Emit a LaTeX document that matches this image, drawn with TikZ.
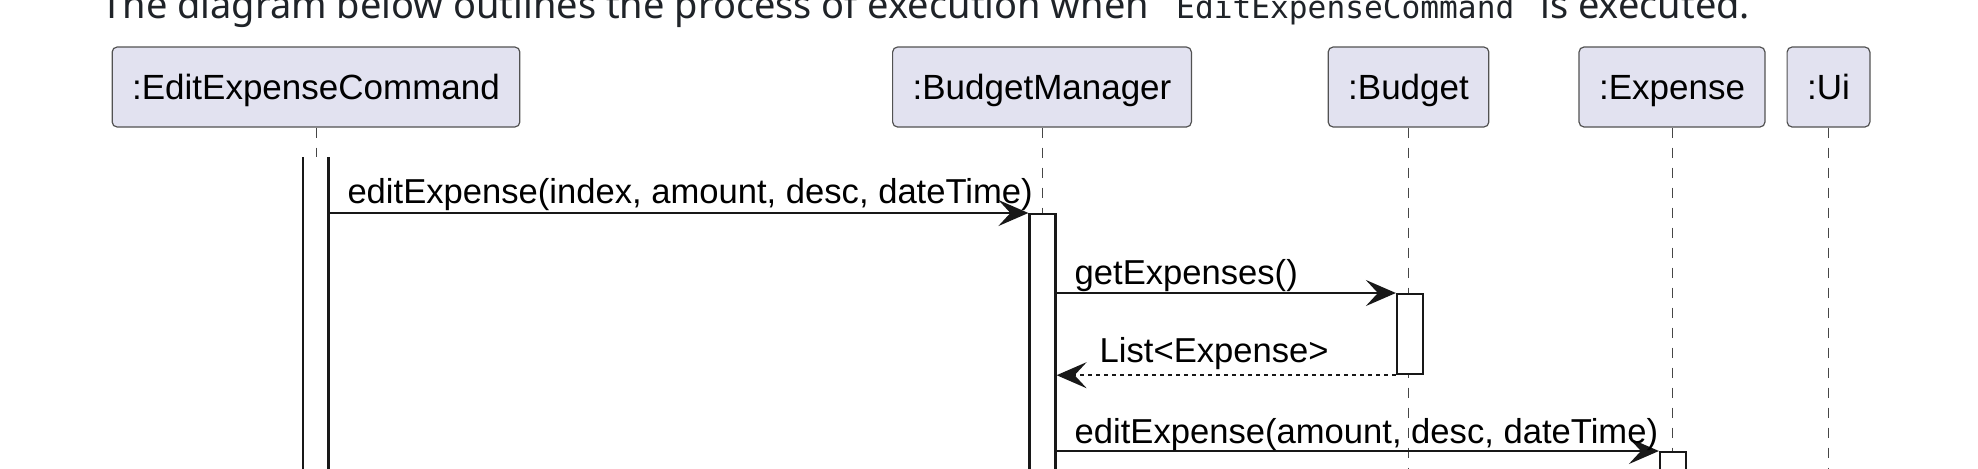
\documentclass[tikz,border=0pt]{standalone}
\usepackage{fontspec}
\setmainfont{Liberation Sans}
\newfontfamily\mdfont{Noto Sans}
\newfontfamily\mdcode{DejaVu Sans Mono}
\usetikzlibrary{arrows.meta,positioning}
\definecolor{partfill}{HTML}{E2E2F0}
\definecolor{umlline}{HTML}{181818}
\definecolor{mdtext}{HTML}{1F2328}
\tikzset{
  part/.style={draw=umlline!75, line width=0.6pt, fill=partfill, rounded corners=2.5pt,
    minimum height=40pt, inner xsep=10pt, text height=12.4pt, text depth=0pt,
    font=\fontsize{17.5pt}{20pt}\selectfont},
  lifeline/.style={draw=umlline!80, line width=0.5pt, dash pattern=on 5pt off 5pt},
  actfill/.style={fill=white, minimum width=13pt, inner sep=0pt, anchor=north},
  activ/.style={draw=umlline, line width=1.1pt},
  msg/.style={draw=umlline, line width=1.1pt, -{Stealth[length=15pt,width=13pt,inset=6pt]}},
  reply/.style={msg, dash pattern=on 2pt off 2pt},
  msglabel/.style={anchor=base west, inner sep=0pt, font=\fontsize{17.3pt}{20pt}\selectfont}
}
\begin{document}
\begin{tikzpicture}[x=0.5pt,y=-0.5pt]
\clip[use as bounding box] (0,0) rectangle (1978,468);

% intro line of the page, cut at the top
\node[anchor=base west, inner sep=0pt, text=mdtext, font=\mdfont\fontsize{19pt}{22pt}\selectfont]
  (intro) at (101,18) {The diagram below outlines the process of execution
  when\hspace{13.5pt}{\mdcode\fontsize{15.6pt}{18pt}\selectfont EditExpenseCommand}\hspace{13pt}is executed.};

% participants
\node[part] (eec) at (316,87) {:EditExpenseCommand};
\node[part] (bm) at (1042,87) {:BudgetManager};
\node[part] (bud) at (1408.5,87) {:Budget};
\node[part] (exp) at (1672,87) {:Expense};
\node[part] (ui) at (1828.5,87) {:Ui};
\coordinate (bottom) at (0,490);

% lifelines
\foreach \p in {eec,bm,bud,exp,ui}
  \draw[lifeline] (\p.south) -- (\p.south |- bottom);

% activations
\node[actfill, minimum width=12.5pt, minimum height=170pt] (eecact) at (315.5,157) {};
\draw[activ] (eecact.north west) -- (eecact.south west)
  (eecact.north east) -- (eecact.south east);
\node[actfill, draw=umlline, line width=1.1pt, minimum height=150pt] (bmact) at (1042.5,213) {};
\node[actfill, draw=umlline, line width=1.1pt, minimum height=40pt] (budact) at (1410,293) {};
\node[actfill, draw=umlline, line width=1.1pt, minimum height=40pt] (expact) at (1673,451) {};

% messages
\draw[msg] (eecact.east |- bmact.north) -- (bmact.north west)
  node[pos=0, msglabel, xshift=9pt, yshift=5pt] {editExpense(index, amount, desc, dateTime)};
\draw[msg] (bmact.east |- budact.north) -- (budact.north west)
  node[pos=0, msglabel, xshift=8.5pt, yshift=4.5pt] {getExpenses()};
\draw[reply] (budact.south west) -- (bmact.east |- budact.south)
  node[pos=1, msglabel, xshift=21pt, yshift=6.5pt] {List<Expense>};
\draw[msg] (bmact.east |- expact.north) -- (expact.north west)
  node[pos=0, msglabel, xshift=8.5pt, yshift=4pt] {editExpense(amount, desc, dateTime)};
\end{tikzpicture}
\end{document}
